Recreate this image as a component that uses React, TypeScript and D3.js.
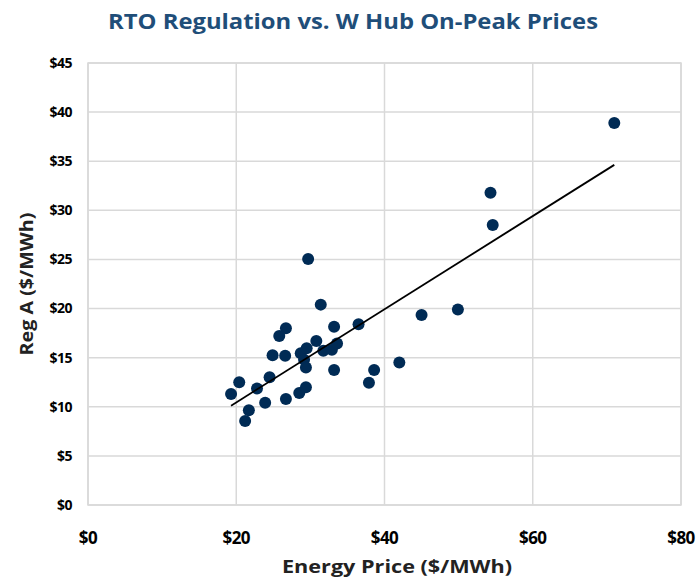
import React from "react";
import { scaleLinear, range, mean, sum } from "d3";

// energy price ($/MWh) vs Reg A price ($/MWh)
const energyPrice = [
  71.0, 54.3, 54.6, 45.0, 49.9, 42.0, 31.4, 26.7, 25.8, 33.2, 36.5, 30.8, 24.9, 26.6, 28.7,
  29.5, 31.75, 32.9, 33.6, 29.15, 29.4, 33.2, 37.9, 38.6, 24.5, 20.4, 19.3, 22.8, 23.9, 26.7,
  28.5, 29.4, 21.7, 21.2, 29.7,
];
const regA = [
  38.9, 31.8, 28.5, 19.35, 19.9, 14.5, 20.4, 18.0, 17.2, 18.15, 18.4, 16.7, 15.25, 15.2, 15.45,
  15.95, 15.7, 15.8, 16.45, 14.8, 14.0, 13.75, 12.45, 13.75, 13.0, 12.5, 11.3, 11.85, 10.4, 10.8,
  11.4, 12.0, 9.65, 8.55, 25.05,
];
const xTicks = [0, 20, 40, 60, 80];
const yTicks = [0, 5, 10, 15, 20, 25, 30, 35, 40, 45];

const App = () => {
  const width = 699;
  const height = 580;
  const margin = { top: 63, right: 18, bottom: 75, left: 88 };
  const innerWidth = width - margin.left - margin.right;
  const innerHeight = height - margin.top - margin.bottom;

  const xScale = scaleLinear().domain([0, 80]).range([0, innerWidth]);
  const yScale = scaleLinear().domain([0, 45]).range([innerHeight, 0]);

  const points = range(energyPrice.length).map((i) => ({ x: energyPrice[i], y: regA[i] }));

  // least squares trend line
  const mx = mean(energyPrice) as number;
  const my = mean(regA) as number;
  const slope =
    (sum(points, (d) => (d.x - mx) * (d.y - my)) as number) /
    (sum(points, (d) => (d.x - mx) ** 2) as number);
  const intercept = my - slope * mx;
  const x0 = Math.min(...energyPrice);
  const x1 = Math.max(...energyPrice);

  const font = "'Open Sans', Lato, sans-serif";
  const grid = "#d9d9d9";

  return (
    <svg width={width} height={height} style={{ position: "absolute", left: 0, top: 0 }}>
      <text
        x={353}
        y={29}
        textAnchor="middle"
        fontFamily={font}
        fontWeight="bold"
        fontSize={22}
        fill="#1f4e79"
        textLength={490}
        lengthAdjust="spacingAndGlyphs"
      >
        RTO Regulation vs. W Hub On-Peak Prices
      </text>
      <g transform={`translate(${margin.left}, ${margin.top})`}>
        {yTicks.map((t) => (
          <g key={"y" + t}>
            <line x1={0} x2={innerWidth} y1={yScale(t)} y2={yScale(t)} stroke={grid} strokeWidth={1.5} />
            <text
              x={-16}
              y={yScale(t)}
              dy="0.35em"
              textAnchor="end"
              fontFamily={font}
              fontWeight="bold"
              fontSize={14}
              letterSpacing={-0.5}
              fill="#000"
            >
              ${t}
            </text>
          </g>
        ))}
        {xTicks.map((t) => (
          <g key={"x" + t}>
            <line x1={xScale(t)} x2={xScale(t)} y1={0} y2={innerHeight} stroke={grid} strokeWidth={1.5} />
            <text
              x={xScale(t)}
              y={innerHeight + 39}
              textAnchor="middle"
              fontFamily={font}
              fontWeight="bold"
              fontSize={17}
              letterSpacing={-0.5}
              fill="#000"
            >
              ${t}
            </text>
          </g>
        ))}
        <rect x={0} y={0} width={innerWidth} height={innerHeight} fill="none" stroke={grid} strokeWidth={1.5} />
        {points.map((d, i) => (
          <circle key={i} cx={xScale(d.x)} cy={yScale(d.y)} r={6} fill="#002b55" />
        ))}
        <line
          x1={xScale(x0)}
          y1={yScale(intercept + slope * x0)}
          x2={xScale(x1)}
          y2={yScale(intercept + slope * x1)}
          stroke="#000"
          strokeWidth={1.8}
        />
        <text
          x={397 - margin.left}
          y={innerHeight + 68}
          textAnchor="middle"
          fontFamily={font}
          fontWeight="bold"
          fontSize={18}
          fill="#222"
          textLength={230}
          lengthAdjust="spacingAndGlyphs"
        >
          Energy Price ($/MWh)
        </text>
        <text
          transform={`translate(${-55}, ${284 - margin.top}) rotate(-90)`}
          textAnchor="middle"
          fontFamily={font}
          fontWeight="bold"
          fontSize={18}
          fill="#222"
          textLength={143}
          lengthAdjust="spacingAndGlyphs"
        >
          Reg A ($/MWh)
        </text>
      </g>
    </svg>
  );
};

export default App;
